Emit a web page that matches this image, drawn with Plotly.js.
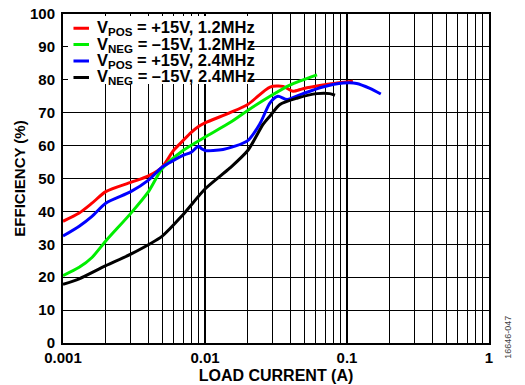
<!DOCTYPE html>
<html>
<head>
<meta charset="utf-8">
<script src="https://cdn.plot.ly/plotly-3.0.1.min.js"></script>
<style>html,body{margin:0;padding:0;background:#fff;}#chart{width:525px;height:385px;}</style>
</head>
<body>
<div id="chart"></div>
<script>
// VPOS = +15V, 1.2MHz (red)
var posI12   = [0.001, 0.0013, 0.0016, 0.002, 0.003, 0.004, 0.005, 0.006, 0.007, 0.008, 0.009, 0.01, 0.015, 0.02, 0.0287, 0.0355, 0.0416, 0.049, 0.0675, 0.085, 0.11];
var posEff12 = [37, 39.5, 42.5, 46, 48.8, 50.8, 53.5, 58.5, 61.5, 64, 65.8, 66.9, 70, 72.5, 77.8, 78, 76.5, 77.3, 78.4, 79, 79.6];
// VNEG = -15V, 1.2MHz (green)
var negI12   = [0.001, 0.0013, 0.0016, 0.002, 0.003, 0.004, 0.005, 0.007, 0.01, 0.015, 0.02, 0.0287, 0.0396, 0.0615];
var negEff12 = [20.5, 23, 26, 31, 39.4, 46, 53, 58.5, 62.6, 67, 70.7, 75, 78.4, 81.5];
// VPOS = +15V, 2.4MHz (blue)
var posI24   = [0.001, 0.0013, 0.0016, 0.002, 0.003, 0.004, 0.005, 0.006, 0.007, 0.008, 0.009, 0.0095, 0.01, 0.0134, 0.02, 0.0244, 0.0287, 0.0326, 0.0379, 0.049, 0.0675, 0.094, 0.117, 0.145, 0.173];
var posEff24 = [32.5, 35.5, 38.5, 42.5, 46, 49.5, 53.5, 55.5, 57, 58, 59.8, 59, 58.5, 58.8, 61.5, 66.7, 73, 75, 74, 75.8, 77.8, 79, 78.9, 77.4, 75.7];
// VNEG = -15V, 2.4MHz (black)
var negI24   = [0.001, 0.0013, 0.002, 0.003, 0.005, 0.007, 0.01, 0.015, 0.02, 0.0257, 0.0287, 0.0337, 0.0444, 0.0615, 0.0755, 0.0823];
var negEff24 = [17.8, 19.5, 23.5, 27, 32.5, 39, 46.8, 53.2, 58.5, 66.5, 69, 72.5, 74.4, 75.8, 75.8, 75.3];

var seriesNames = [
  'V<sub>POS</sub> = +15V, 1.2MHz',
  'V<sub>NEG</sub> = –15V, 1.2MHz',
  'V<sub>POS</sub> = +15V, 2.4MHz',
  'V<sub>NEG</sub> = –15V, 2.4MHz'
];
var seriesColors = ['#ff0000', '#00ee00', '#0000ff', '#000000'];
var xs = [posI12, negI12, posI24, negI24];
var ys = [posEff12, negEff12, posEff24, negEff24];

var FONT = 'Liberation Sans, Arial, Helvetica, sans-serif';

var traces = xs.map(function (x, i) {
  return {
    x: x, y: ys[i], type: 'scatter', mode: 'lines',
    name: seriesNames[i],
    line: {color: seriesColors[i], width: 3, shape: 'spline', smoothing: 0.7},
    hoverinfo: 'skip'
  };
});

// legend block drawn as annotations (white backdrop, line keys, labels)
var legendRowY = [0.957, 0.907, 0.857, 0.807];
var annotations = [{
  text: ' ', xref: 'paper', yref: 'paper', x: 0.012, y: 0.995,
  xanchor: 'left', yanchor: 'top', showarrow: false,
  width: 182, height: 68, bgcolor: '#ffffff', borderpad: 0, borderwidth: 0
}];
seriesNames.forEach(function (name, i) {
  annotations.push({
    text: '', xref: 'paper', yref: 'paper', x: 0.061, y: legendRowY[i],
    showarrow: true, arrowhead: 0, arrowwidth: 3, arrowcolor: seriesColors[i],
    ax: -17, ay: 0, standoff: 0, startstandoff: 0
  });
  annotations.push({
    text: name, xref: 'paper', yref: 'paper', x: 0.076, y: legendRowY[i],
    xanchor: 'left', yanchor: 'middle', showarrow: false,
    font: {family: FONT, size: 16.5, color: '#000', weight: 'bold'}
  });
});
annotations.push({
  text: '16646-047', xref: 'paper', yref: 'paper', x: 1.059, y: -0.055,
  showarrow: false, textangle: -90,
  font: {family: FONT, size: 9, color: '#444'}
});

var layout = {
  width: 525, height: 385,
  margin: {l: 63, r: 36, t: 14, b: 42, pad: 0},
  paper_bgcolor: '#fff', plot_bgcolor: '#fff',
  font: {family: FONT, color: '#000'},
  showlegend: false,
  xaxis: {
    type: 'log', range: [-3, 0], dtick: 1, exponentformat: 'none',
    showgrid: true, gridcolor: '#000', gridwidth: 2,
    minor: {dtick: 'D1', showgrid: true, gridcolor: '#000', gridwidth: 1, ticks: ''},
    showline: true, linecolor: '#000', linewidth: 2, mirror: true,
    ticks: '', zeroline: false,
    tickfont: {family: FONT, size: 15, color: '#000', weight: 'bold'},
    title: {text: 'LOAD CURRENT (A)', font: {family: FONT, size: 16, color: '#000', weight: 'bold'}, standoff: 5}
  },
  yaxis: {
    range: [0, 100], dtick: 10,
    showgrid: true, gridcolor: '#000', gridwidth: 1,
    showline: true, linecolor: '#000', linewidth: 2, mirror: true,
    ticks: '', zeroline: false, ticklabelstandoff: 3,
    tickfont: {family: FONT, size: 15, color: '#000', weight: 'bold'},
    title: {text: 'EFFICIENCY (%)', font: {family: FONT, size: 15, color: '#000', weight: 'bold'}, standoff: 1}
  },
  annotations: annotations
};

Plotly.newPlot('chart', traces, layout, {displayModeBar: false, staticPlot: true});
</script>
</body>
</html>
